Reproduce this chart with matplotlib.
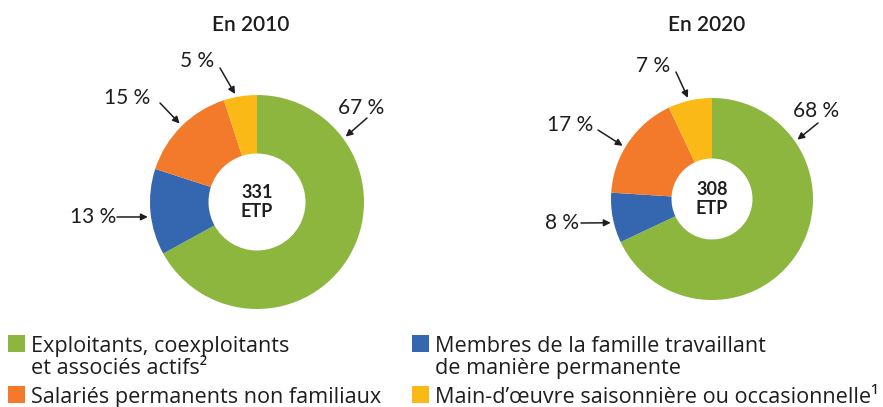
import matplotlib.pyplot as plt
from matplotlib.patches import Rectangle
import numpy as np

# donnees
categories = ["Exploitants, coexploitants\net associés actifs²",
              "Membres de la famille travaillant\nde manière permanente",
              "Salariés permanents non familiaux",
              "Main-d’œuvre saisonnière ou occasionnelle¹"]
colors = ["#8db63e", "#3566b0", "#f47a2b", "#fbb918"]
years = ["En 2010", "En 2020"]
parts_2010 = [67, 13, 15, 5]
parts_2020 = [68, 8, 17, 7]
totals = ["331\nETP", "308\nETP"]

H = 407  # hauteur en pixels, pour passer du haut vers le bas

# mise en page de chaque anneau (pixels de l'image)
layout = [
    dict(center=(257, 202), radius=107, inner=48.5, title=(251, 31),
         texts=[(361, 108), (93, 217), (127, 98), (197, 61)],
         starts=[(367, 118), (117, 217), (160, 103), (220, 68)],
         angles=[36.4, 187.8, 134.6, 101.5]),
    dict(center=(712, 199), radius=101, inner=40.5, title=(707, 31),
         texts=[(816, 111), (562, 223), (570, 125), (653, 66)],
         starts=[(818, 123), (581, 223), (598, 130), (676, 72)],
         angles=[34.8, 193.2, 149.2, 103.4]),
]

plt.rcParams['font.family'] = ['Lato', 'DejaVu Sans']

fig = plt.figure(figsize=(8.83, 4.07), dpi=100)
ax = fig.add_axes([0, 0, 1, 1])

for parts, year, total, lay in zip([parts_2010, parts_2020], years, totals, layout):
    cx, cy = lay["center"]
    cy = H - cy
    R = lay["radius"]
    ax.pie(parts, colors=colors, startangle=90, counterclock=False,
           radius=R, center=(cx, cy), frame=True,
           wedgeprops=dict(width=R - lay["inner"], linewidth=0))

    tx, ty = lay["title"]
    ax.text(tx, H - ty, year, ha="center", va="baseline", fontsize=15,
            fontweight="semibold", color="#1e1e1e")
    ax.text(cx, cy, total, ha="center", va="center", fontsize=13,
            fontweight="bold", color="#1e1e1e", linespacing=1.15)

    # etiquettes en pourcentage avec fleches
    for val, (px, py), (sx, sy), ang in zip(parts, lay["texts"], lay["starts"], lay["angles"]):
        ax.text(px, H - py, f"{val} %", ha="center", va="center", fontsize=15,
                color="#1e1e1e")
        a = np.radians(ang)
        tip = (cx + 1.03 * R * np.cos(a), cy + 1.03 * R * np.sin(a))
        ax.annotate("", xy=tip, xytext=(sx, H - sy),
                    arrowprops=dict(arrowstyle="-|>", color="#1e1e1e", lw=1.1,
                                    mutation_scale=10, shrinkA=0, shrinkB=0))

# legende dessinee a la main
leg_pos = [(8, 335), (412, 335), (8, 386), (412, 386)]
for (lx, ly), lab, col in zip(leg_pos, categories, colors):
    ax.add_patch(Rectangle((lx, H - ly - 17), 17, 17, color=col, linewidth=0))
    for i, line in enumerate(lab.split("\n")):
        ax.text(lx + 23, H - (ly + 17 + 22 * i), line, ha="left", va="baseline",
                fontsize=15.6, color="#1e1e1e", family=["Open Sans", "DejaVu Sans"])

ax.set_xlim(0, 883)
ax.set_ylim(0, H)
ax.set_aspect("equal")
ax.axis("off")

fig.savefig("out.png", dpi=100)
